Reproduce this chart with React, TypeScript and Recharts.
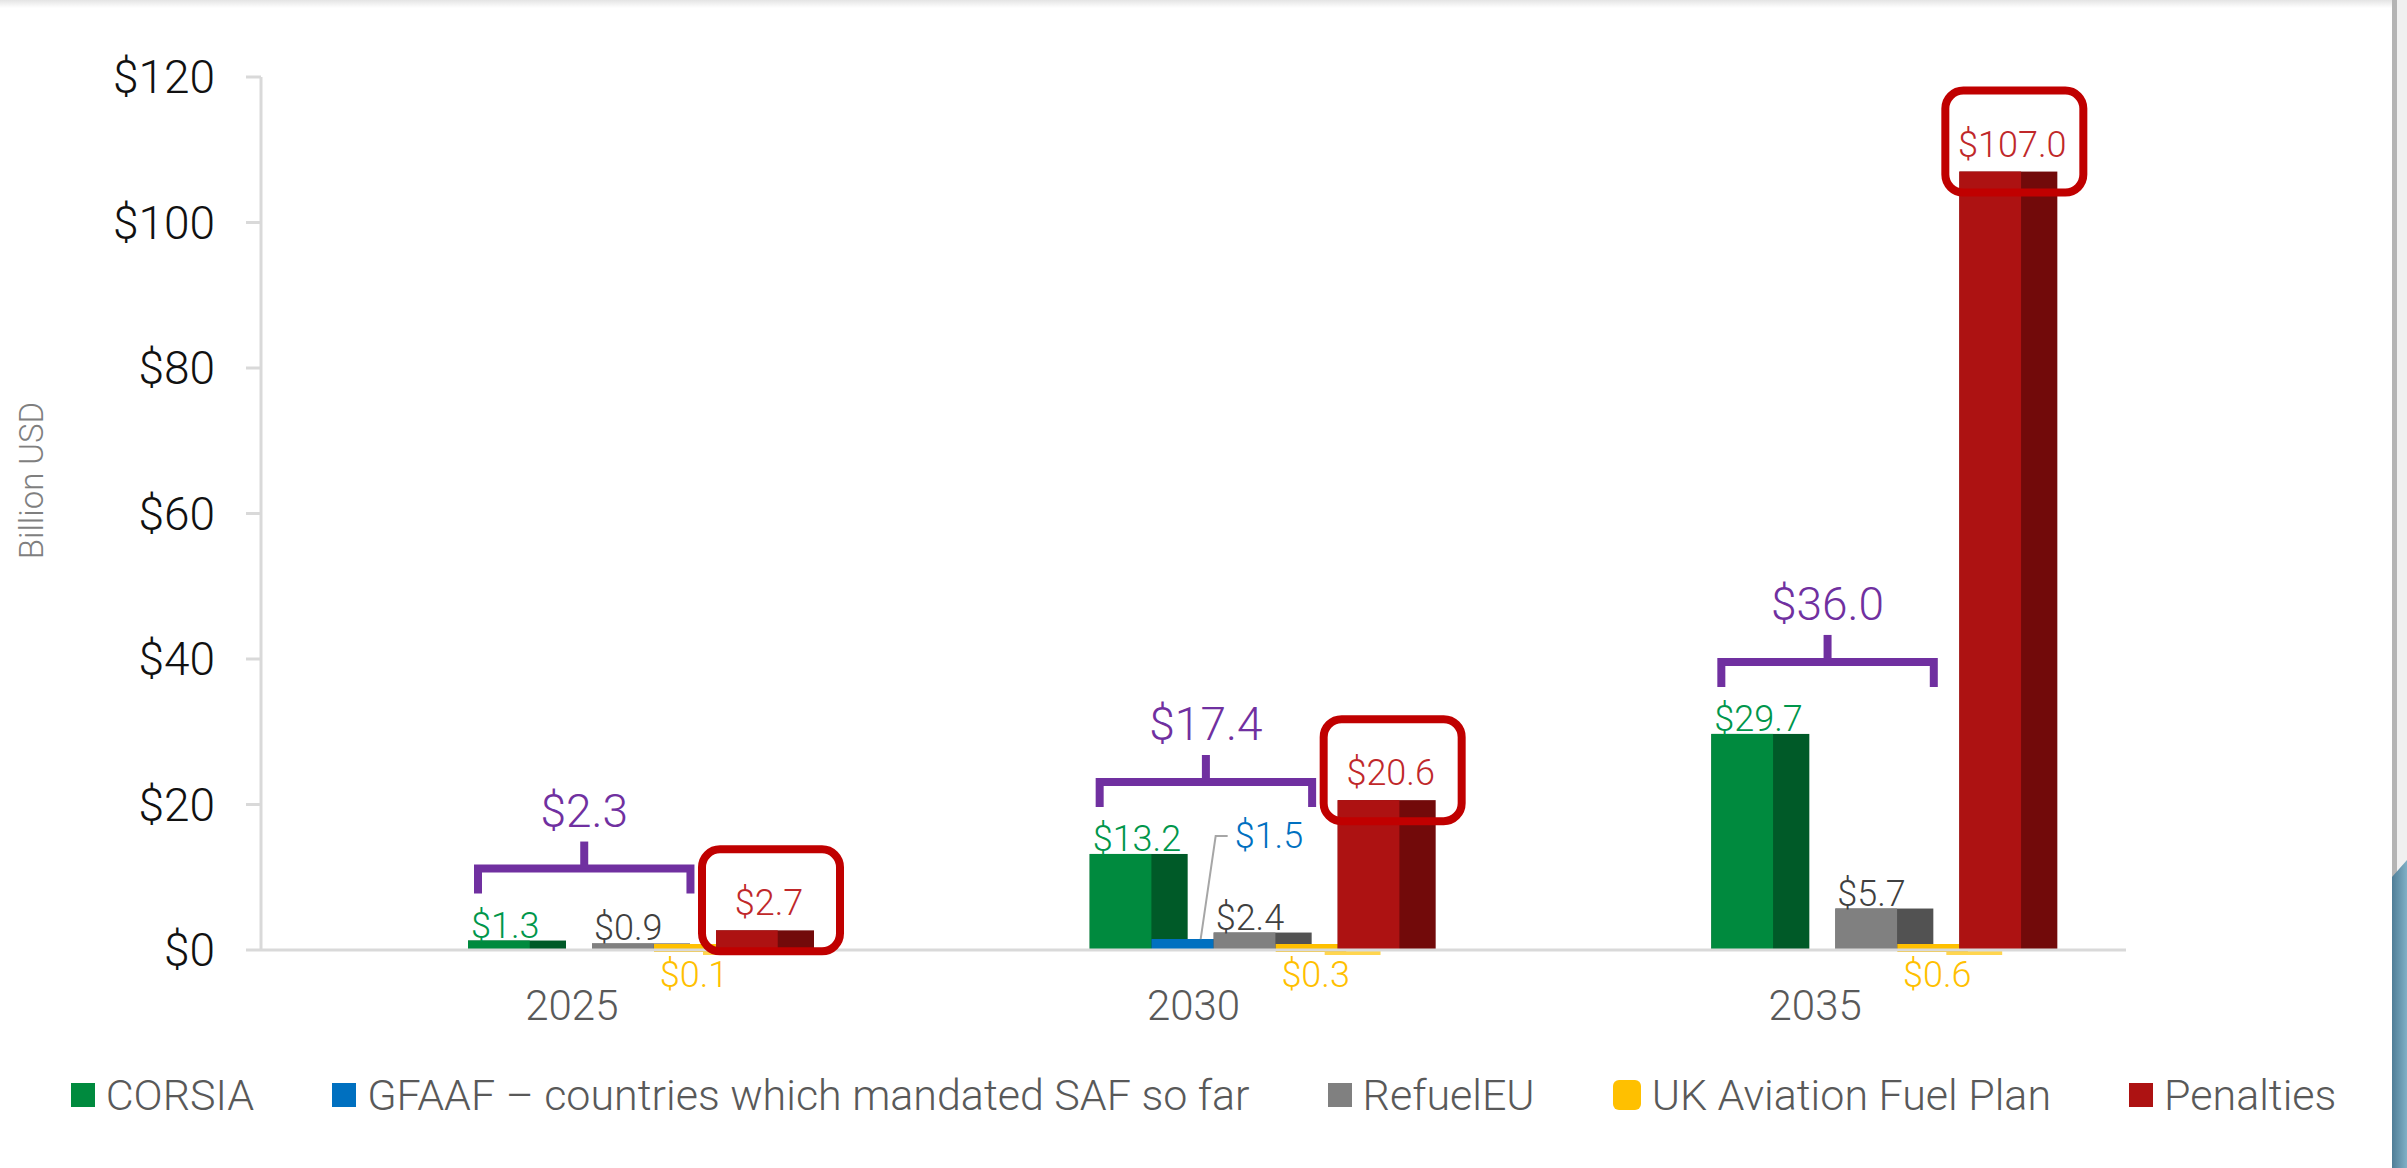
import { BarChart, Bar, XAxis, YAxis, LabelList, Legend } from 'recharts';

const years = ['2025', '2030', '2035'];
const corsia = [1.3, 13.2, 29.7];
const gfaaf: (number | null)[] = [null, 1.5, null];
const refuelEU = [0.9, 2.4, 5.7];
const ukPlan = [0.1, 0.3, 0.6];
const penalties = [2.7, 20.6, 107.0];
const yTicks = [0, 20, 40, 60, 80, 100, 120];

const series = [
    { key: 'corsia', name: 'CORSIA', front: '#008a3e', side: '#005a28', text: '#00964b' },
    { key: 'gfaaf', name: 'GFAAF – countries which mandated SAF so far', front: '#0070c0', side: '#0062aa', text: '#0070c0' },
    { key: 'refuelEU', name: 'RefuelEU', front: '#808080', side: '#525252', text: '#404040' },
    { key: 'ukPlan', name: 'UK Aviation Fuel Plan', front: '#ffc000', side: '#ffd54f', text: '#ffc000' },
    { key: 'penalties', name: 'Penalties', front: '#ad1212', side: '#720a0a', text: '#c0282a' },
];

const data = years.map((year, i) => ({
    year,
    corsia: corsia[i],
    gfaaf: gfaaf[i],
    refuelEU: refuelEU[i],
    ukPlan: ukPlan[i],
    penalties: penalties[i],
    // total of the mandate schemes, shown above the bracket
    total: corsia[i] + (gfaaf[i] ?? 0) + refuelEU[i] + ukPlan[i],
}));

const FONT = 'Roboto, "Open Sans", sans-serif';
const PURPLE = '#7030a0';
const fmt = (v: number) => `$${v.toFixed(1)}`;

// bar with a lighter front face and a darker side face
const sidedBar = (front: string, side: string) => (p: any) => {
    const { x, y, width, height } = p;
    if (!(height > 0)) return <g />;
    return (
        <g>
            <rect x={x} y={y} width={width} height={height} fill={side} />
            <rect x={x} y={y} width={width * 0.63} height={height} fill={front} />
        </g>
    );
};

// the tiny UK bars sit as a thin strip on the floor
const floorBar = (front: string, side: string) => (p: any) => {
    const { x, y, width, height } = p;
    if (!(height > 0)) return <g />;
    const base = y + height;
    const top = Math.min(y, base - 6);
    return (
        <g>
            <rect x={x + width * 0.5} y={base + 1} width={width * 0.57} height={4} fill={side} />
            <rect x={x} y={top} width={width * 0.72} height={base + 2 - top} fill={front} />
        </g>
    );
};

const vbOf = (p: any) => p.viewBox ?? p;

const greenLabel = (p: any) => {
    if (p.value == null) return null;
    const { x, y } = vbOf(p);
    return (
        <text x={x + 3} y={y - 3} fill="#00964b" fontSize={36} fontWeight={300} fontFamily={FONT}>
            {fmt(p.value)}
        </text>
    );
};

const grayLabel = (p: any) => {
    if (p.value == null) return null;
    const { x, y, width } = vbOf(p);
    return (
        <text x={x + width * 0.37} y={y - 3} textAnchor="middle" fill="#404040" fontSize={36} fontWeight={300} fontFamily={FONT}>
            {fmt(p.value)}
        </text>
    );
};

const yellowLabel = (p: any) => {
    if (p.value == null) return null;
    const { x, y, height } = vbOf(p);
    return (
        <text x={x + 40} y={y + height + 37} textAnchor="middle" fill="#ffc000" fontSize={36} fontWeight={300} fontFamily={FONT}>
            {fmt(p.value)}
        </text>
    );
};

const blueLabel = (p: any) => {
    if (p.value == null) return null;
    const { x, y, width } = vbOf(p);
    const cx = x + width / 2;
    return (
        <g>
            <polyline points={`${cx},${y} ${cx + 15},${y - 103} ${cx + 27},${y - 103}`} fill="none" stroke="#a6a6a6" strokeWidth={2} />
            <text x={cx + 34} y={y - 91} fill="#0070c0" fontSize={36} fontWeight={300} fontFamily={FONT}>
                {fmt(p.value)}
            </text>
        </g>
    );
};

const penaltyLabel = (p: any) => {
    if (p.value == null) return null;
    const { x, y, width } = vbOf(p);
    return (
        <g>
            <text x={x + width / 2 + 4} y={y - 15} textAnchor="middle" fill="#c0282a" fontSize={36} fontWeight={300} fontFamily={FONT}>
                {fmt(p.value)}
            </text>
            <rect x={x - 14} y={y - 81} width={width + 40} height={102} rx={18} fill="none" stroke="#c00000" strokeWidth={8} />
        </g>
    );
};

// bracket over the mandate bars with their total
const bracketLabel = (p: any) => {
    if (p.value == null) return null;
    const { x, y, width } = vbOf(p);
    const left = x + 10;
    const right = x + width * 2.27;
    const mid = (left + right) / 2;
    const hy = y - 72;
    return (
        <g>
            <path d={`M${left},${hy + 25} V${hy} H${right} V${hy + 25}`} fill="none" stroke={PURPLE} strokeWidth={8} />
            <path d={`M${mid},${hy} V${hy - 27}`} fill="none" stroke={PURPLE} strokeWidth={8} />
            <text x={mid} y={hy - 42} textAnchor="middle" fill={PURPLE} fontSize={46} fontWeight={300} fontFamily={FONT}>
                {fmt(p.value)}
            </text>
        </g>
    );
};

const yTitle = (p: any) => {
    const vb = p.viewBox;
    const cx = vb.x + 31;
    const cy = vb.y + vb.height / 2 - 33;
    return (
        <text x={cx} y={cy} transform={`rotate(-90 ${cx} ${cy})`} textAnchor="middle" dominantBaseline="central" fill="#7f7f7f" fontSize={33} fontWeight={300} fontFamily={FONT}>
            Billion USD
        </text>
    );
};

const LegendContent = () => (
    <div
        style={{
            height: 70,
            display: 'flex',
            justifyContent: 'center',
            alignItems: 'center',
            gap: 78,
            fontFamily: FONT,
            fontWeight: 300,
            fontSize: 43,
            color: '#595959',
        }}
    >
        {series.map((s) => (
            <div key={s.key} style={{ display: 'flex', alignItems: 'center', gap: 11, whiteSpace: 'nowrap' }}>
                <span
                    style={{
                        display: 'inline-block',
                        width: s.key === 'ukPlan' ? 28 : 24,
                        height: s.key === 'ukPlan' ? 30 : 24,
                        borderRadius: s.key === 'ukPlan' ? 6 : 0,
                        background: s.front,
                    }}
                />
                <span>{s.name}</span>
            </div>
        ))}
    </div>
);

const App = () => {
    return (
        <div style={{ position: 'absolute', left: 0, top: 0, width: 2407, height: 1168, background: '#fff', overflow: 'hidden', fontFamily: FONT }}>
            <div style={{ position: 'absolute', left: 0, top: 0, width: 2407, height: 8, background: 'linear-gradient(#e4e4e4, #fff)' }} />
            <div style={{ position: 'absolute', left: 2392, top: 0, width: 5, height: 877, background: '#b4b4b4' }} />
            <div style={{ position: 'absolute', left: 2397, top: 0, width: 10, height: 877, background: '#f0f0f0' }} />
            <div style={{ position: 'absolute', left: 2392, top: 860, width: 15, height: 308, background: 'linear-gradient(to right, #4f7d96, #7fb0c6)', clipPath: 'polygon(0 17px, 100% 0, 100% 100%, 0 100%)' }} />
            <BarChart
                width={2407}
                height={1168}
                data={data}
                margin={{ top: 77, right: 281, bottom: 38, left: 0 }}
                barSize={98}
                barGap={-36}
            >
                <XAxis
                    dataKey="year"
                    axisLine={{ stroke: '#d9d9d9', strokeWidth: 3 }}
                    tickLine={false}
                    tickSize={0}
                    tickMargin={40}
                    height={110}
                    tick={{ fill: '#595959', fontSize: 42, fontWeight: 300, fontFamily: FONT }}
                />
                <YAxis
                    width={261}
                    domain={[0, 120]}
                    ticks={yTicks}
                    tickFormatter={(v: number) => `$${v}`}
                    axisLine={{ stroke: '#d9d9d9', strokeWidth: 3 }}
                    tickLine={{ stroke: '#d9d9d9', strokeWidth: 3 }}
                    tickSize={15}
                    tickMargin={31}
                    tick={{ fill: '#111', fontSize: 46, fontWeight: 300, fontFamily: FONT }}
                    label={{ content: yTitle }}
                />
                <Legend verticalAlign="bottom" height={70} wrapperStyle={{ left: 0, width: 2407 }} content={() => <LegendContent />} />
                {/* empty slot that pushes the bar group right of the category centre */}
                <Bar dataKey="offsetSlot" barSize={174} legendType="none" shape={() => <g />} isAnimationActive={false} />
                <Bar dataKey="corsia" name="CORSIA" shape={sidedBar(series[0].front, series[0].side)} isAnimationActive={false}>
                    <LabelList dataKey="corsia" content={greenLabel} />
                    <LabelList dataKey="total" content={bracketLabel} />
                </Bar>
                <Bar dataKey="gfaaf" name={series[1].name} shape={sidedBar(series[1].front, series[1].side)} isAnimationActive={false}>
                    <LabelList dataKey="gfaaf" content={blueLabel} />
                </Bar>
                <Bar dataKey="refuelEU" name="RefuelEU" shape={sidedBar(series[2].front, series[2].side)} isAnimationActive={false}>
                    <LabelList dataKey="refuelEU" content={grayLabel} />
                </Bar>
                <Bar dataKey="ukPlan" name="UK Aviation Fuel Plan" shape={floorBar(series[3].front, series[3].side)} isAnimationActive={false}>
                    <LabelList dataKey="ukPlan" content={yellowLabel} />
                </Bar>
                <Bar dataKey="penalties" name="Penalties" shape={sidedBar(series[4].front, series[4].side)} isAnimationActive={false}>
                    <LabelList dataKey="penalties" content={penaltyLabel} />
                </Bar>
            </BarChart>
        </div>
    );
};

export default App;
